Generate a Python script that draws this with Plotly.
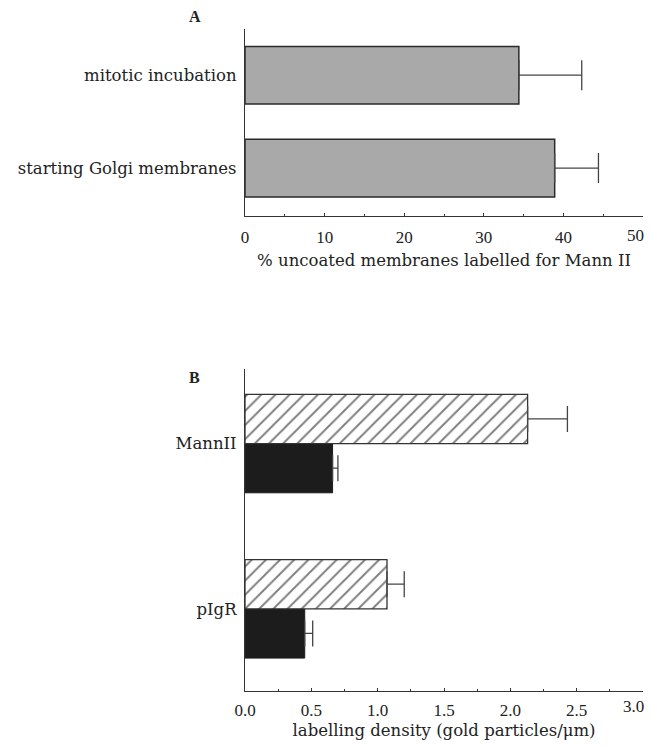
import plotly.graph_objects as go

# Panel A data
a_categories = ["starting Golgi membranes", "mitotic incubation"]
a_values = [38.9, 34.4]
a_errors = [5.5, 7.9]
a_ticks = [0, 10, 20, 30, 40, 50]
a_ticktext = ["0", "10", "20", "30", "40", "50"]

# Panel B data
b_categories = ["pIgR", "MannII"]
b_hatched_values = [1.07, 2.13]
b_hatched_errors = [0.13, 0.30]
b_black_values = [0.45, 0.66]
b_black_errors = [0.06, 0.04]
b_ticks = [0, 0.5, 1, 1.5, 2, 2.5, 3]
b_ticktext = ["0.0", "0.5", "1.0", "1.5", "2.0", "2.5", "3.0"]

TXT = "DejaVu Serif"
NUM = "Liberation Serif"
# the page body keeps its default 8px margin, so the figure is sized to fit
OFF = 8
W, H = 653 - 2 * OFF, 748 - 2 * OFF


def fx(v):
    return (v - OFF) / W


def fy(v):
    return 1 - (v - OFF) / H


fig = go.Figure()

fig.add_trace(go.Bar(
    y=a_categories, x=a_values, orientation="h",
    width=0.62,
    marker=dict(color="#a9a9a9", line=dict(color="#2a2a2a", width=1.5)),
    error_x=dict(type="data", symmetric=False, array=a_errors,
                 arrayminus=[0, 0], color="#444444", thickness=1.3, width=15),
    xaxis="x", yaxis="y", showlegend=False,
))

fig.add_trace(go.Bar(
    y=b_categories, x=b_black_values, orientation="h",
    width=0.298, offset=-0.298,
    marker=dict(color="#1c1c1c", line=dict(color="#1c1c1c", width=1)),
    error_x=dict(type="data", symmetric=False, array=b_black_errors,
                 arrayminus=[0, 0], color="#444444", thickness=1.3, width=13),
    xaxis="x2", yaxis="y2", showlegend=False,
))

fig.add_trace(go.Bar(
    y=b_categories, x=b_hatched_values, orientation="h",
    width=0.298, offset=0,
    marker=dict(color="white", line=dict(color="#333333", width=1.3),
                pattern=dict(shape="/", fgcolor="#000000", bgcolor="white",
                             size=10, solidity=0.2)),
    error_x=dict(type="data", symmetric=False, array=b_hatched_errors,
                 arrayminus=[0, 0], color="#444444", thickness=1.3, width=13),
    xaxis="x2", yaxis="y2", showlegend=False,
))

line_common = dict(showline=True, linecolor="#333333", linewidth=1.3,
                   showgrid=False, zeroline=False)
tickfont = dict(family=NUM, size=17, color="#222222")
xcommon = dict(ticks="inside", ticklen=3, tickcolor="#333333",
               tickfont=tickfont, **line_common)
ycommon = dict(ticks="", tickfont=dict(family=TXT, size=16.5, color="#222222"),
               ticklabelstandoff=4, **line_common)

x0, x1 = fx(238), fx(643)

# the last tick label of each axis sits at the page edge: draw it as a
# right-aligned label so it stays inside the page
edge_labels = [
    dict(text=a_ticktext[-1], x=a_ticks[-1], xref="x", y=fy(238), yref="paper",
         xanchor="right", yanchor="middle", xshift=3, showarrow=False, font=tickfont),
    dict(text=b_ticktext[-1], x=b_ticks[-1], xref="x2", y=fy(715), yref="paper",
         xanchor="right", yanchor="middle", xshift=3, showarrow=False, font=tickfont),
]

fig.update_layout(
    width=W, height=H,
    margin=dict(l=0, r=0, t=0, b=0),
    paper_bgcolor="white", plot_bgcolor="white",
    font=dict(family=TXT, color="#222222"),
    xaxis=dict(domain=[x0, x1], range=[0, 50], anchor="y",
               tickvals=a_ticks, ticktext=a_ticktext[:-1] + [""],
               minor=dict(tickvals=[5, 15, 25, 35, 45], ticks="inside", ticklen=2, tickcolor="#333333"),
               ticklabelstandoff=5,
               title=dict(text="% uncoated membranes labelled for Mann II",
                          font=dict(family=TXT, size=16.5), standoff=8),
               **xcommon),
    yaxis=dict(domain=[fy(219), fy(29)], range=[-0.52, 1.5], anchor="x",
               categoryorder="array", categoryarray=a_categories, **ycommon),
    xaxis2=dict(domain=[x0, x1], range=[0, 3], anchor="y2",
                tickvals=b_ticks, ticktext=b_ticktext[:-1] + [""],
                minor=dict(tickvals=[0.25, 0.75, 1.25, 1.75, 2.25, 2.75], ticks="inside", ticklen=2, tickcolor="#333333"),
                ticklabelstandoff=3,
                title=dict(text="labelling density (gold particles/μm)",
                           font=dict(family=TXT, size=16.5), standoff=8),
                **xcommon),
    yaxis2=dict(domain=[fy(700), fy(373)], range=[-0.5, 1.454], anchor="x2",
                categoryorder="array", categoryarray=b_categories, **ycommon),
    annotations=[
        dict(text="<b>A</b>", x=fx(187), y=fy(17), xref="paper", yref="paper",
             xanchor="center", yanchor="middle",
             showarrow=False, font=dict(family=NUM, size=16, color="#222222")),
        dict(text="<b>B</b>", x=fx(187), y=fy(382), xref="paper", yref="paper",
             xanchor="center", yanchor="middle",
             showarrow=False, font=dict(family=NUM, size=16, color="#222222")),
    ] + edge_labels,
)

fig.write_html("out.html", config={"displayModeBar": False})
